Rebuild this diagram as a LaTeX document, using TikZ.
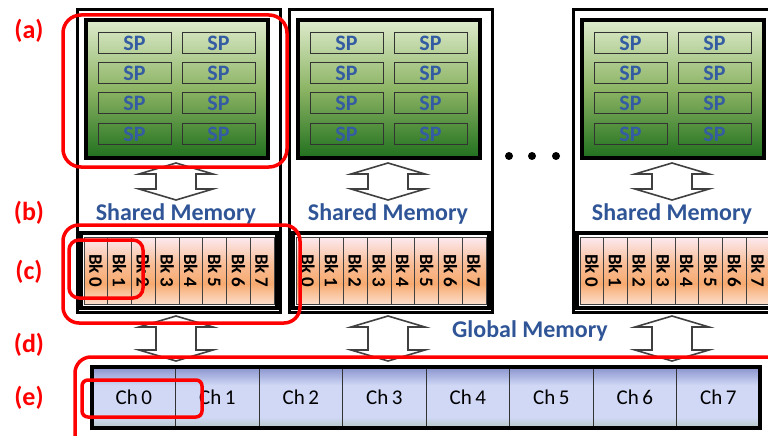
\documentclass[tikz,border=0pt]{standalone}
\usepackage{fontspec}
\setmainfont{Carlito}
\usetikzlibrary{calc}

\definecolor{lblred}{RGB}{255,0,0}
\definecolor{memblue}{RGB}{47,85,151}
\definecolor{spblue}{RGB}{52,92,162}
\definecolor{gtop}{RGB}{222,235,204}
\definecolor{gmid}{RGB}{140,180,100}
\definecolor{gbot}{RGB}{32,112,30}
\definecolor{btop}{RGB}{252,234,240}
\definecolor{bmid}{RGB}{247,170,112}
\definecolor{bbot}{RGB}{252,222,204}
\definecolor{ctop}{RGB}{136,146,204}
\definecolor{cmid}{RGB}{208,216,246}
\definecolor{cbot}{RGB}{182,200,196}
\definecolor{arrowgray}{RGB}{64,64,64}

% gradients: the band 25bp..75bp is stretched over the filled shape
\pgfdeclareverticalshading{greenfade}{100bp}{color(0bp)=(gbot); color(25bp)=(gbot); color(50bp)=(gmid); color(75bp)=(gtop); color(100bp)=(gtop)}
\pgfdeclareverticalshading{bankfade}{100bp}{color(0bp)=(bbot); color(25bp)=(bbot); color(40bp)=(bmid); color(55bp)=(bmid!70!btop); color(75bp)=(btop); color(100bp)=(btop)}
\pgfdeclareverticalshading{chanfade}{100bp}{color(0bp)=(cbot); color(25bp)=(cbot); color(34bp)=(cmid); color(60bp)=(cmid); color(75bp)=(ctop); color(100bp)=(ctop)}

\tikzset{
  smframe/.style={draw=black, line width=3, inner sep=0},
  spcore/.style={shading=greenfade, draw=black, line width=4, inner sep=0},
  spbox/.style={draw=black!80, line width=1, inner sep=0, minimum width=73, minimum height=21.5,
                text=spblue, font=\fontsize{22}{24}\selectfont\bfseries},
  shbox/.style={draw=black, line width=3.5, inner sep=0},
  bkcell/.style={shading=bankfade, draw=black!75, line width=0.8, inner sep=0, minimum width=23.75, minimum height=67},
  bktxt/.style={rotate=-90, inner sep=0, font=\fontsize{19}{20}\selectfont\bfseries},
  chbar/.style={draw=black, line width=4, inner sep=0},
  chcell/.style={shading=chanfade, draw=black!80, line width=0.8, inner sep=0, minimum width=83.5, minimum height=61,
                 font=\fontsize{21}{23}\selectfont},
  memtxt/.style={text=memblue, inner sep=0, font=\fontsize{24}{26}\selectfont\bfseries},
  lbl/.style={text=lblred, inner sep=0, font=\fontsize{26}{28}\selectfont\bfseries},
  redbox/.style={draw=lblred, line width=3.5},
  blockarrow/.style={draw=arrowgray, line width=1.6, fill=white, line join=miter},
  dot/.style={circle, fill=black, inner sep=0, minimum size=8},
  pics/updown/.style={code={
    \draw[blockarrow] (0,-#1) -- (37,-#1+11) -- (20,-#1+11) -- (20,#1-11) -- (37,#1-11)
      -- (0,#1) -- (-37,#1-11) -- (-20,#1-11) -- (-20,-#1+11) -- (-37,-#1+11) -- cycle;
  }}
}

\begin{document}
\begin{tikzpicture}[x=1pt, y=-1pt]
\useasboundingbox (0,0) rectangle (768,436);
\clip (0,0) rectangle (768,436);

% three streaming multiprocessors
\foreach \L/\n in {77/1, 289/2, 573/3} {
  \node[smframe, minimum width=203, minimum height=302] (sm\n) at (\L+101.5,161) {};
  % processor core array
  \node[spcore, minimum width=182, minimum height=138] (core\n) at (\L+100,89) {};
  \foreach \r/\y in {1/43, 2/73, 3/103, 4/134} {
    \node[spbox] (sp\n-\r-1) at (\L+57.5,\y) {SP};
    \node[spbox] (sp\n-\r-2) at (\L+141.5,\y) {SP};
  }
  % core <-> shared memory
  \pic at (\L+99,181.5) {updown=18.5};
  \node[memtxt] (shtxt\n) at (\L+99,214) {Shared Memory};
  % shared memory banks
  \foreach \b in {0,...,7} {
    \node[bkcell] (bk\n-\b) at (\L+7+23.75*\b+11.875,270.5) {};
    \node[bktxt] (bkt\n-\b) at (bk\n-\b.center) {Bk\,\b};
  }
  \node[shbox, minimum width=196, minimum height=75] (shmem\n) at (\L+102,270.5) {};
  % shared memory <-> global memory
  \pic at (\L+99,338.5) {updown=22.5};
}

% ellipsis between multiprocessors
\node[dot] (dotA) at (509,156) {};
\node[dot] (dotB) at (532,156) {};
\node[dot] (dotC) at (556,156) {};

\node[memtxt] (gltxt) at (530,331) {Global Memory};

% global memory channels
\foreach \c in {0,...,7} {
  \node[chcell] (ch\c) at (92+83.5*\c+41.75,397.5) {Ch\,\c};
}
\node[chbar, minimum width=668, minimum height=61] (chans) at (426,397.5) {};

% row labels
\node[lbl] (la) at (29,31) {(a)};
\node[lbl] (lb) at (29,213) {(b)};
\node[lbl] (lc) at (29,272) {(c)};
\node[lbl] (ld) at (29,345) {(d)};
\node[lbl] (le) at (29,398) {(e)};

% highlight outlines
\draw[redbox, rounded corners=18] (63,15) rectangle (287,167);
\draw[redbox, rounded corners=16] (63,225) rectangle (300,323);
\draw[redbox, rounded corners=10] (69,240) rectangle (143,298);
\draw[redbox, rounded corners=16] (75,357) rectangle (800,460);
\draw[redbox, rounded corners=6] (82,380) rectangle (202,417);
\end{tikzpicture}
\end{document}
